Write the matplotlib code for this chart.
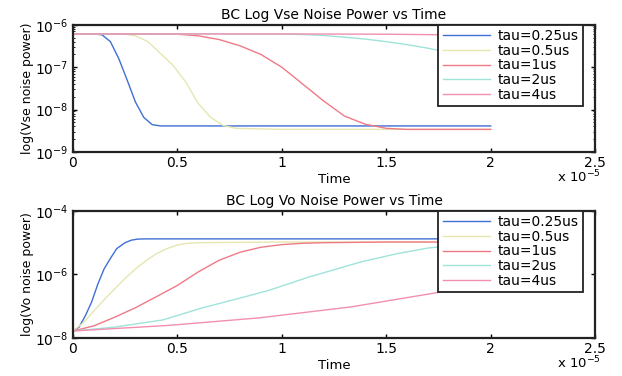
import numpy as np
import matplotlib.pyplot as plt
from matplotlib.ticker import FixedLocator, LogLocator, NullFormatter

plt.rcParams['font.family'] = ['DejaVu Sans']
plt.rcParams['mathtext.fontset'] = 'dejavusans'

LABELS = ['tau=0.25us', 'tau=0.5us', 'tau=1us', 'tau=2us', 'tau=4us']
COLORS = ['#3f6fd6', '#e6e6b0', '#ef7a86', '#9fe3da', '#f28fb0']

# ---- top panel: Vse noise power (time in units of 1e-5 s)
vse_t = [
    [0, 0.10, 0.14, 0.18, 0.22, 0.26, 0.30, 0.34, 0.38, 0.42, 0.5, 1.0, 1.5, 2.0],
    [0, 0.25, 0.30, 0.36, 0.42, 0.48, 0.54, 0.60, 0.66, 0.72, 0.78, 1.0, 1.5, 2.0],
    [0, 0.5, 0.6, 0.7, 0.8, 0.9, 1.0, 1.1, 1.2, 1.3, 1.4, 1.5, 1.6, 2.0],
    [0, 1.0, 1.1, 1.2, 1.3, 1.4, 1.5, 1.6, 1.7, 1.8, 1.9, 2.0],
    [0, 1.0, 1.5, 1.8, 2.0],
]
vse_v = [
    [6.1e-7, 6.1e-7, 5.8e-7, 4e-7, 1.6e-7, 5e-8, 1.5e-8, 6.5e-9, 4.4e-9, 4.1e-9, 4.1e-9, 4.1e-9, 4.1e-9, 4.1e-9],
    [6.1e-7, 6.0e-7, 5.5e-7, 4e-7, 2.1e-7, 1.1e-7, 4.5e-8, 1.4e-8, 6.5e-9, 4.2e-9, 3.6e-9, 3.4e-9, 3.4e-9, 3.4e-9],
    [6.1e-7, 6.0e-7, 5.5e-7, 4.5e-7, 3.2e-7, 2e-7, 1e-7, 4e-8, 1.6e-8, 7e-9, 4.5e-9, 3.6e-9, 3.4e-9, 3.4e-9],
    [6.1e-7, 6.05e-7, 5.9e-7, 5.6e-7, 5.1e-7, 4.6e-7, 4.0e-7, 3.4e-7, 2.8e-7, 2.2e-7, 1.7e-7, 1.2e-7],
    [6.1e-7, 6.1e-7, 6.0e-7, 5.8e-7, 5.6e-7],
]

# ---- bottom panel: Vo noise power
vo_t = [
    [0, 0.03, 0.06, 0.09, 0.12, 0.15, 0.18, 0.21, 0.25, 0.28, 0.31, 0.35, 1.0, 2.0],
    [0, 0.05, 0.10, 0.15, 0.20, 0.25, 0.30, 0.35, 0.40, 0.45, 0.50, 0.55, 0.6, 1.0, 2.0],
    [0, 0.1, 0.2, 0.3, 0.4, 0.5, 0.6, 0.7, 0.8, 0.9, 1.0, 1.1, 1.2, 1.5, 2.0],
    [0, 0.2, 0.43, 0.62, 0.8, 0.94, 1.13, 1.38, 1.55, 1.7, 1.85, 2.0],
    [0, 0.46, 0.89, 1.33, 1.76, 2.0],
]
vo_v = [
    [1.66e-8, 2.2e-8, 5e-8, 1.35e-7, 5e-7, 1.5e-6, 3.2e-6, 6.5e-6, 1.0e-5, 1.2e-5, 1.3e-5, 1.32e-5, 1.32e-5, 1.32e-5],
    [1.66e-8, 3e-8, 7e-8, 1.6e-7, 3.5e-7, 7.5e-7, 1.5e-6, 2.7e-6, 4.5e-6, 6.5e-6, 8.5e-6, 9.6e-6, 1.0e-5, 1.05e-5, 1.05e-5],
    [1.66e-8, 2.4e-8, 4.5e-8, 9e-8, 2.0e-7, 4.5e-7, 1.2e-6, 2.8e-6, 5e-6, 7.2e-6, 8.7e-6, 9.6e-6, 1.0e-5, 1.05e-5, 1.05e-5],
    [1.66e-8, 2.2e-8, 3.7e-8, 8.9e-8, 1.8e-7, 3.2e-7, 8.3e-7, 2.5e-6, 4.5e-6, 6.8e-6, 8.5e-6, 9.5e-6],
    [1.66e-8, 2.5e-8, 4.3e-8, 9.5e-8, 2.8e-7, 5e-7],
]

XTICKS = [0, 0.5, 1, 1.5, 2, 2.5]
XTICKLABELS = ['0', '0.5', '1', '1.5', '2', '2.5']

fig = plt.figure(figsize=(6.22, 3.76), dpi=100)
ax1 = fig.add_axes([0.117, 0.596, 0.840, 0.338])
ax2 = fig.add_axes([0.117, 0.101, 0.840, 0.338])


def style_axes(ax, ylim, yticks, ylabel, title):
    ax.set_yscale('log')
    ax.set_xlim(0, 2.5)
    ax.set_ylim(*ylim)
    ax.set_xticks(XTICKS)
    ax.set_xticklabels(XTICKLABELS)
    ax.yaxis.set_major_locator(FixedLocator(yticks))
    ax.yaxis.set_minor_locator(LogLocator(base=10, subs=np.arange(2, 10)))
    ax.yaxis.set_minor_formatter(NullFormatter())
    ax.tick_params(direction='in', top=True, right=True, labelsize=10,
                   length=3, width=1, pad=3)
    ax.tick_params(which='minor', direction='in', length=1.5, right=True)
    for s in ax.spines.values():
        s.set_linewidth(1.6)
        s.set_color('#222222')
    ax.set_ylabel(ylabel, fontsize=9, labelpad=1)
    ax.set_xlabel('Time', fontsize=9.5, labelpad=2)
    ax.set_title(title, fontsize=10, pad=4)
    ax.text(1.01, -0.2, r'x 10$^{-5}$', transform=ax.transAxes,
            fontsize=9.5, ha='right', va='center')
    ax.legend(loc='upper right', bbox_to_anchor=(0.977, 1.0), borderaxespad=0,
              fontsize=10, handlelength=3.4, labelspacing=0.05,
              fancybox=False, framealpha=1, edgecolor='#222222',
              borderpad=0.3, handletextpad=0.6).get_frame().set_linewidth(1.3)


for i in range(5):
    ax1.plot(vse_t[i], vse_v[i], color=COLORS[i], lw=1.0, label=LABELS[i])
    ax2.plot(vo_t[i], vo_v[i], color=COLORS[i], lw=1.0, label=LABELS[i])

style_axes(ax1, (1e-9, 1e-6), [1e-9, 1e-8, 1e-7, 1e-6],
           'log(Vse noise power)', 'BC Log Vse Noise Power vs Time')
style_axes(ax2, (1e-8, 1e-4), [1e-8, 1e-6, 1e-4],
           'log(Vo noise power)', 'BC Log Vo Noise Power vs Time')

fig.savefig('out.png', dpi=100)
